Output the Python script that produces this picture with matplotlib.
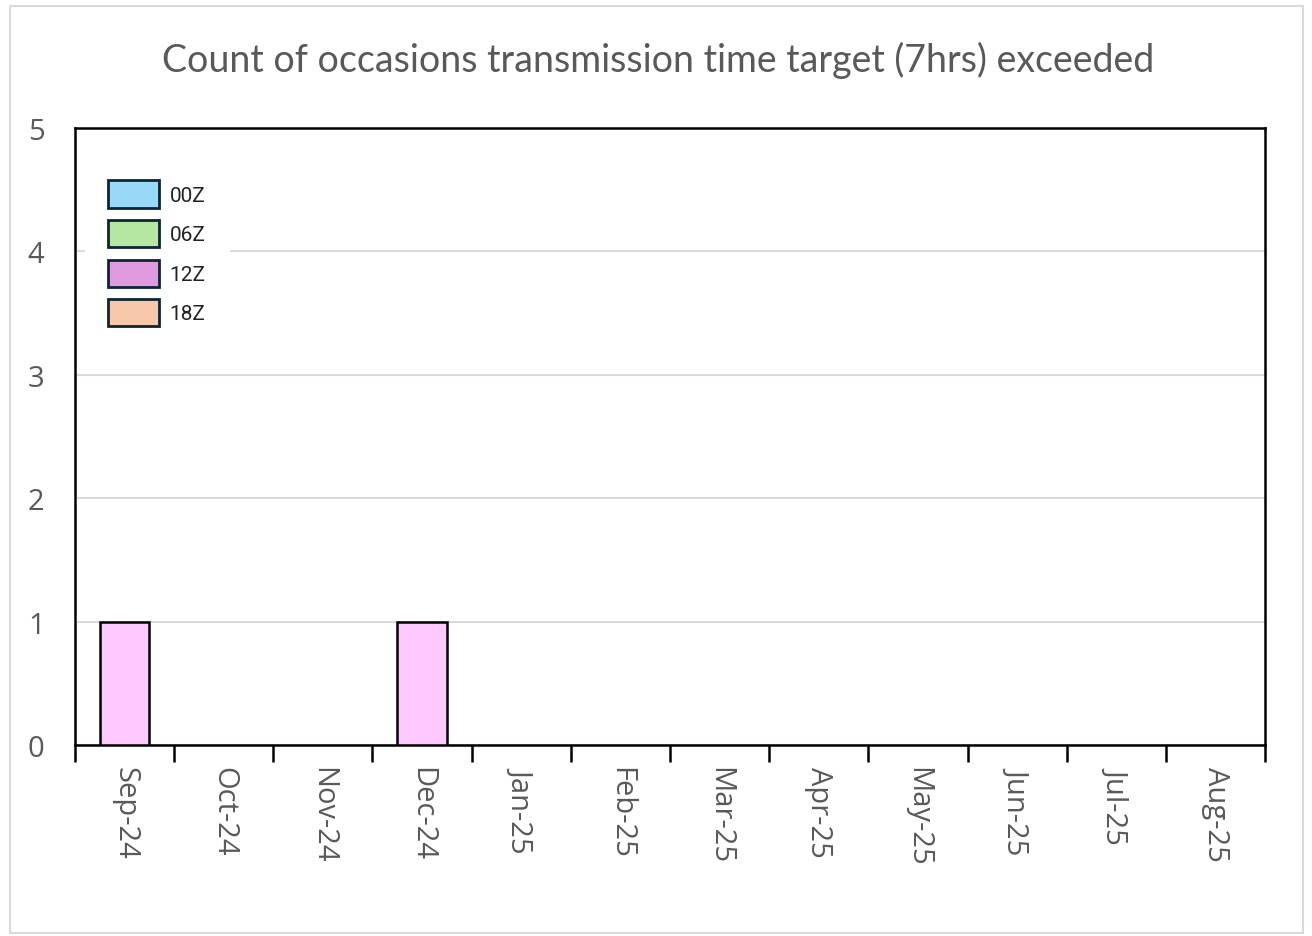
import numpy as np
import matplotlib.pyplot as plt
from matplotlib.patches import Patch, Rectangle

months = ["Sep-24", "Oct-24", "Nov-24", "Dec-24", "Jan-25", "Feb-25",
          "Mar-25", "Apr-25", "May-25", "Jun-25", "Jul-25", "Aug-25"]
series = ["00Z", "06Z", "12Z", "18Z"]
counts_00z = [0, 0, 0, 0, 0, 0, 0, 0, 0, 0, 0, 0]
counts_06z = [0, 0, 0, 0, 0, 0, 0, 0, 0, 0, 0, 0]
counts_12z = [1, 0, 0, 1, 0, 0, 0, 0, 0, 0, 0, 0]
counts_18z = [0, 0, 0, 0, 0, 0, 0, 0, 0, 0, 0, 0]

bar_colors = ["#97d9f7", "#b5e6a2", "#ffc8ff", "#f7c7aa"]
legend_colors = ["#97d9f7", "#b5e6a2", "#e09be0", "#f7c7aa"]

fig = plt.figure(figsize=(13.12, 9.37), dpi=100)
fig.patches.append(Rectangle((0.008, 0.003), 0.985, 0.99, transform=fig.transFigure,
                             fill=False, edgecolor="#d9d9d9", linewidth=1.5))
ax = fig.add_axes([75 / 1312, 1 - 746 / 937, 1190 / 1312, 617 / 937])

x = np.arange(len(months))
bottom = np.zeros(len(months))
for name, vals, col in zip(series, [counts_00z, counts_06z, counts_12z, counts_18z], bar_colors):
    vals = np.array(vals)
    mask = vals > 0
    ax.bar(x[mask], vals[mask], 0.5, bottom=bottom[mask], color=col,
           edgecolor="black", linewidth=1.8, zorder=3)
    bottom += vals

ax.set_xlim(-0.5, len(months) - 0.5)
ax.set_ylim(0, 5)
ax.set_yticks(range(6))
ax.yaxis.grid(True, color="#d9d9d9", linewidth=1.5, zorder=0)
ax.set_axisbelow(True)
for s in ax.spines.values():
    s.set_linewidth(1.8)
    s.set_color("black")

ax.set_xticks(x)
ax.set_xticklabels(months, rotation=270, fontsize=21, color="#595959", family="Open Sans")
ax.set_xticks(np.arange(-0.5, len(months)), minor=True)
ax.tick_params(axis="x", which="major", length=0, pad=15)
ax.tick_params(axis="x", which="minor", length=12, width=1.8, color="black", direction="out")
ax.tick_params(axis="y", length=0, pad=22, labelsize=21, labelcolor="#595959")
for lab in ax.get_yticklabels():
    lab.set_family("Open Sans")

fig.text(0.502, 0.935, "Count of occasions transmission time target (7hrs) exceeded",
         ha="center", va="center", fontsize=27, color="#595959", family="Lato")

handles = [Patch(facecolor=c, edgecolor="#0d2433", linewidth=2, label=n)
           for n, c in zip(series, legend_colors)]
leg = ax.legend(handles=handles, loc="upper left", bbox_to_anchor=(0.0, 0.969),
                frameon=True, fancybox=False, edgecolor="white", framealpha=1,
                borderpad=1.1, handlelength=2.45, handleheight=1.62, labelspacing=0.6,
                handletextpad=0.5, prop={"family": "Roboto", "size": 15})
for t in leg.get_texts():
    t.set_color("#222222")

fig.savefig("out.png", dpi=100, facecolor="white")
